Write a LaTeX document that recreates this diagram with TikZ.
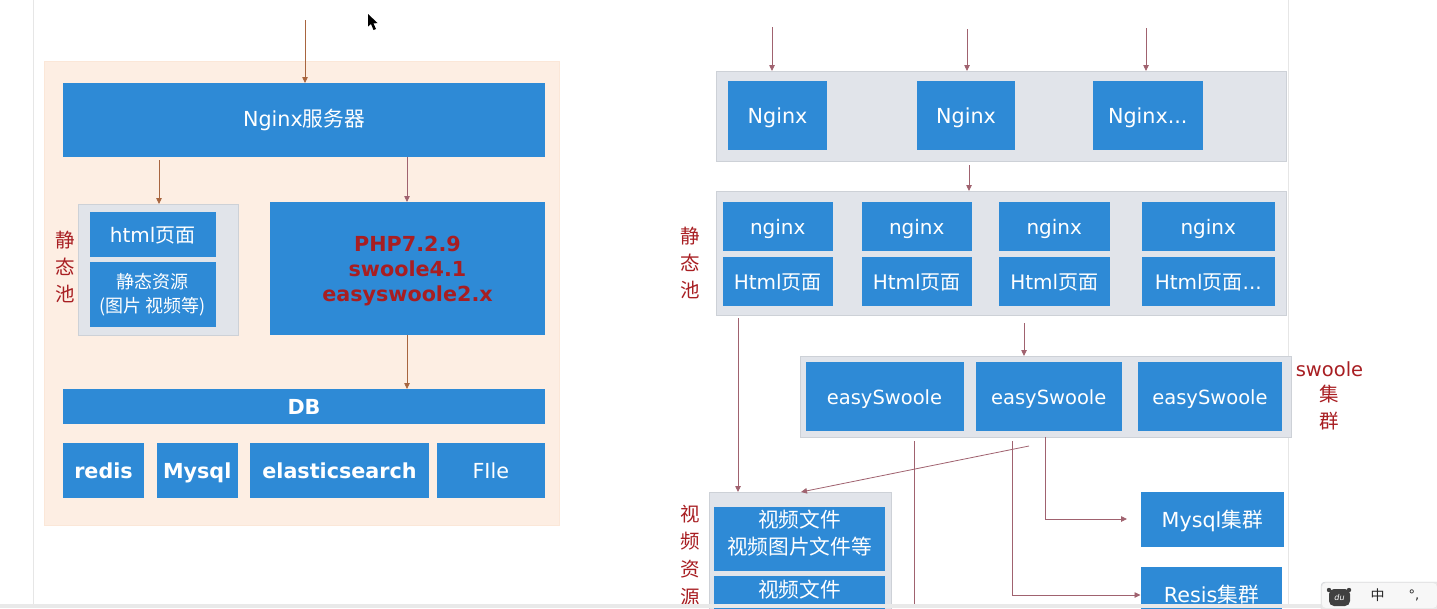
\documentclass[tikz,border=0pt]{standalone}
\usepackage{fontspec}
\setmainfont{DejaVu Sans}
\newfontfamily\cjk{Noto Sans CJK SC}
\usetikzlibrary{arrows.meta}
\definecolor{boxblue}{HTML}{2E8AD6}
\definecolor{panelgray}{HTML}{E1E4EA}
\definecolor{panelline}{HTML}{CDD1D7}
\definecolor{panelorange}{HTML}{FDEEE3}
\definecolor{orangeline}{HTML}{FBE7D8}
\definecolor{labelred}{HTML}{A81E22}
\definecolor{arrowmauve}{HTML}{A0626F}
\definecolor{arrowbrown}{HTML}{A8653F}
\definecolor{pageline}{HTML}{E6E6E6}
\definecolor{stripgray}{HTML}{E9E9E9}
\def\bxdrop{3pt}
\tikzset{
  x=1pt,y=-1pt,
  every node/.style={inner sep=0pt,outer sep=0pt},
  blue box/.style={fill=boxblue,text=white,align=center,font=\fontsize{20}{27}\selectfont},
  wide box/.style={blue box,font=\fontsize{20.7}{27}\selectfont},
  swoole box/.style={blue box,font=\fontsize{19.5}{27}\selectfont},
  bold box/.style={blue box,font=\fontsize{20.7}{25}\selectfont\bfseries},
  php box/.style={bold box,text=labelred},
  small drop/.style={execute at begin node={\def\bxdrop{1pt}}},
  gray panel/.style={fill=panelgray,draw=panelline,line width=.8pt},
  orange panel/.style={fill=panelorange,draw=orangeline,line width=.8pt},
  red label/.style={text=labelred,font=\fontsize{19.5}{27}\selectfont\cjk},
  flow/.style={draw=arrowmauve,line width=.8pt,-{Triangle[length=6pt,width=5.5pt]}},
  flow left/.style={flow,draw=arrowbrown},
  plain flow/.style={draw=arrowmauve,line width=.8pt},
  page line/.style={draw=pageline,line width=.8pt},
}
\newcommand{\bx}[7]{\node[#6,minimum width={#4-#2},minimum height={#5-#3}] (#1) at ({(#2+#4)/2},{(#3+#5)/2}) {\raisebox{-\bxdrop}[\height][\depth]{\begin{tabular}{@{}c@{}}#7\end{tabular}}};}
\newcommand{\zh}[1]{{\cjk #1}}
\begin{document}
\begin{tikzpicture}
\useasboundingbox (0,0) rectangle (1437,608);
\clip (0,0) rectangle (1437,608);
\fill[white] (0,0) rectangle (1437,608);
% page edges
\coordinate (pl0) at (33.5,0); \coordinate (pl1) at (33.5,604);
\coordinate (pr0) at (1288.5,0); \coordinate (pr1) at (1288.5,604);
\draw[page line] (pl0) -- (pl1);
\draw[page line] (pr0) -- (pr1);
% ---------- left diagram
\bx{orange}{44}{61}{559}{525}{orange panel}{}
\bx{server}{63}{83}{545}{157}{wide box,small drop}{Nginx\zh{服务器}}
\bx{staticpanel}{78}{204}{238}{335}{gray panel}{}
\bx{htmlbox}{89.5}{212}{216}{257}{blue box}{html\zh{页面}}
\bx{staticbox}{89.5}{262}{216}{327}{blue box,small drop,font=\fontsize{18}{24}\selectfont}{\zh{静态资源}\\\zh{(图片 视频等)}}
\bx{php}{270}{202}{545}{335}{php box}{PHP7.2.9\\swoole4.1\\easyswoole2.x}
\bx{db}{63}{389}{545}{424}{bold box}{DB}
\bx{redis}{63}{443}{144}{498}{bold box}{redis}
\bx{mysql}{156.5}{443}{238}{498}{bold box}{Mysql}
\bx{elastic}{250}{443}{429}{498}{bold box}{elasticsearch}
\bx{file}{436.5}{443}{545}{498}{wide box}{FIle}
\node[red label] (lstatic1) at (65,240) {静};
\node[red label] (lstatic2) at (65,267) {态};
\node[red label] (lstatic3) at (65,294) {池};
\coordinate (a1) at (305,20);
\coordinate (a2) at (159,160);
\coordinate (a3) at (407,157);
\coordinate (a4) at (407,335);
\draw[flow left] (a1) -- (a1 |- server.north);
\draw[flow left] (a2) -- (a2 |- staticpanel.north);
\draw[flow] (a3) -- (a3 |- php.north);
\draw[flow left] (a4) -- (a4 |- db.north);
% ---------- right diagram, top tier
\bx{tier1}{716.5}{71}{1286}{161}{gray panel}{}
\bx{ng1}{728}{81}{827}{150}{wide box}{Nginx}
\bx{ng2}{917}{81}{1015}{150}{wide box}{Nginx}
\bx{ng3}{1092.5}{81}{1203}{150}{wide box}{Nginx...}
\coordinate (b1) at (772,27);
\coordinate (b2) at (967,29);
\coordinate (b3) at (1146,28);
\draw[flow] (b1) -- (b1 |- tier1.north);
\draw[flow] (b2) -- (b2 |- tier1.north);
\draw[flow] (b3) -- (b3 |- tier1.north);
% static pool
\bx{tier2}{716.5}{191}{1286}{315}{gray panel}{}
\bx{sn1}{722.5}{202}{833}{251}{blue box}{nginx}
\bx{sn2}{861.5}{202}{972}{251}{blue box}{nginx}
\bx{sn3}{999}{202}{1109.5}{251}{blue box}{nginx}
\bx{sn4}{1141.5}{202}{1275}{251}{blue box}{nginx}
\bx{sh1}{722.5}{257}{833}{306}{blue box}{Html\zh{页面}}
\bx{sh2}{861.5}{257}{972}{306}{blue box}{Html\zh{页面}}
\bx{sh3}{999}{257}{1109.5}{306}{blue box}{Html\zh{页面}}
\bx{sh4}{1141.5}{257}{1275}{306}{blue box}{Html\zh{页面}...}
\node[red label] (rstatic1) at (690,236) {静};
\node[red label] (rstatic2) at (690,263) {态};
\node[red label] (rstatic3) at (690,290) {池};
\coordinate (c1) at (969,165);
\draw[flow] (c1) -- (c1 |- tier2.north);
% swoole cluster
\bx{tier3}{800.5}{356}{1291}{437}{gray panel}{}
\bx{es1}{805.5}{362}{963.5}{431}{swoole box}{easySwoole}
\bx{es2}{975.5}{362}{1122}{431}{swoole box}{easySwoole}
\bx{es3}{1138}{362}{1282}{431}{swoole box}{easySwoole}
\node[red label,font=\fontsize{19.5}{27}\selectfont] (sw0) at (1329.5,369) {swoole};
\node[red label] (sw1) at (1329.5,394) {集};
\node[red label] (sw2) at (1329.5,421) {群};
\coordinate (c2) at (1024,323);
\draw[flow] (c2) -- (c2 |- tier3.north);
% video pool
\bx{tier4}{709.5}{492}{891}{625}{gray panel}{}
\bx{vid1}{714}{507}{885}{571}{blue box}{}
\node[text=white,align=center,font=\fontsize{20.7}{27}\selectfont\cjk] (vid1t) at (vid1.north |- 0,533.5) {视频文件\\视频图片文件等};
\node[blue box,minimum width=171,minimum height=50,anchor=north west] (vid2) at (714,576) {};
\node[text=white,font=\fontsize{20.7}{27}\selectfont\cjk] (vid2t) at (vid2.north |- 0,590) {视频文件};
\node[red label] (v1) at (690,514) {视};
\node[red label] (v2) at (690,541) {频};
\node[red label] (v3) at (690,569) {资};
\node[red label] (v4) at (690,597) {源};
\coordinate (d1) at (738,318);
\draw[flow] (d1) -- (d1 |- tier4.north);
\coordinate (d2) at (1029,446);
\coordinate (d3) at (801,492);
\draw[flow] (d2) -- (d3);
% stores
\bx{mysqlc}{1140.5}{492}{1284}{547}{wide box}{Mysql\zh{集群}}
\node[blue box,minimum width=141.5,minimum height=60,anchor=north west] (resisc) at (1140.5,567) {};
\node[text=white,font=\fontsize{20.7}{27}\selectfont] (resist) at (resisc.north |- 0,595) {Resis\zh{集群}};
\coordinate (e1) at (914,441); \coordinate (e2) at (914,608);
\draw[plain flow] (e1) -- (e2);
\coordinate (f1) at (1012,441); \coordinate (f2) at (1012,595);
\draw[flow] (f1) -- (f2) -- (f2 -| resisc.west);
\coordinate (g1) at (1045.5,437); \coordinate (g2) at (1045.5,519); \coordinate (g3) at (1127,519);
\draw[flow] (g1) -- (g2) -- (g3);
% ---------- screen furniture
\fill[stripgray] (0,604) rectangle (1437,608);
\fill[black] (368,14) -- (368,26.5) -- (371,24) -- (373.5,30) -- (376,29) -- (373.5,23.5) -- (377.5,23) -- cycle;
\node[fill=stripgray,draw=panelline,rounded corners=4pt,minimum width=125,minimum height=34,anchor=north west] (ime) at (1321,582) {};
\fill[white!97!black,rounded corners=4pt] (1322,583) rectangle (1437,608);
\fill[black!75] (1329,590) circle (2.2) (1349,590) circle (2.2);
\fill[black!75,rounded corners=5pt] (1329,589) rectangle (1350,606);
\node[text=white,font=\fontsize{8}{8}\selectfont\itshape] (bear) at (1339.5,598) {du};
\node[font=\fontsize{14}{14}\selectfont\cjk,text=black!85] (zhong) at (1377.5,595) {中};
\node[font=\fontsize{13}{13}\selectfont,text=black!85] (punct) at (1414,595) {°,};
\end{tikzpicture}
\end{document}
